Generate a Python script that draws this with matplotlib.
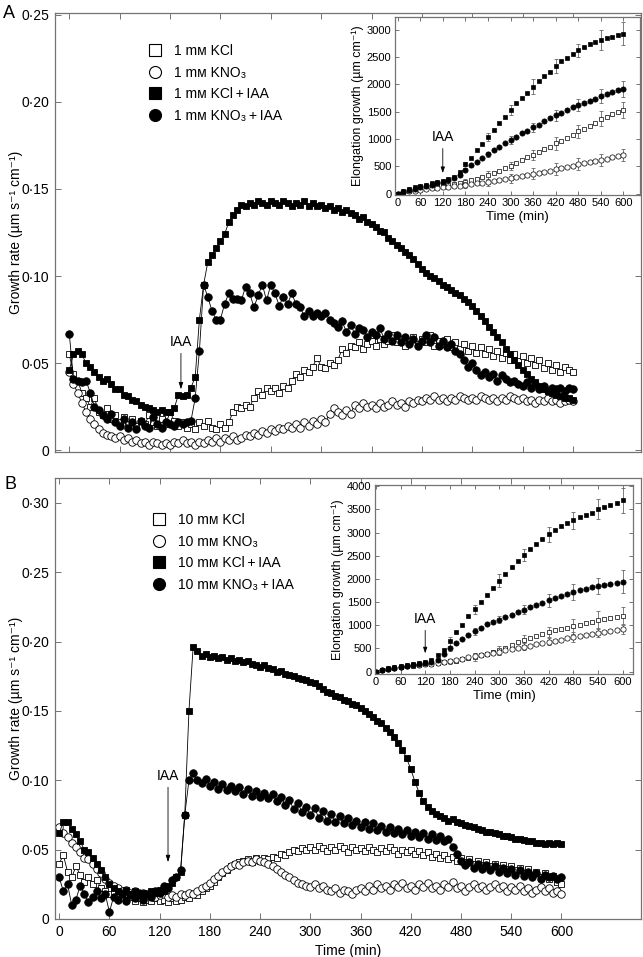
import matplotlib
matplotlib.use('Agg')
import matplotlib.pyplot as plt
import numpy as np
from matplotlib.lines import Line2D
from matplotlib.ticker import FuncFormatter, MultipleLocator

plt.rcParams['font.family'] = ['Liberation Sans', 'DejaVu Sans']

# ===========================================================
# Données : vitesse de croissance (toutes les 5 min)
# ===========================================================
t_main = np.arange(0, 601, 5)

A_kcl = [
    0.055, 0.044, 0.040, 0.033, 0.030, 0.025, 0.030, 0.022, 0.020, 0.024, 0.018, 0.020,
    0.016, 0.019, 0.015, 0.018, 0.014, 0.017, 0.015, 0.020, 0.016, 0.014, 0.018, 0.015,
    0.022, 0.017, 0.014, 0.016, 0.013, 0.015, 0.012, 0.016, 0.014, 0.017, 0.013, 0.012,
    0.015, 0.013, 0.016, 0.022, 0.025, 0.024, 0.026, 0.025, 0.030, 0.034, 0.032, 0.036,
    0.034, 0.036, 0.033, 0.037, 0.036, 0.040, 0.044, 0.042, 0.046, 0.045, 0.048, 0.053,
    0.048, 0.047, 0.050, 0.049, 0.052, 0.058, 0.056, 0.060, 0.059, 0.062, 0.058, 0.061,
    0.063, 0.060, 0.064, 0.061, 0.063, 0.066, 0.062, 0.064, 0.060, 0.063, 0.065, 0.061,
    0.064, 0.062, 0.066, 0.060, 0.063, 0.061, 0.064, 0.059, 0.062, 0.058, 0.061, 0.057,
    0.060, 0.056, 0.059, 0.055, 0.058, 0.054, 0.057, 0.053, 0.056, 0.052, 0.055, 0.051,
    0.054, 0.050, 0.053, 0.049, 0.052, 0.047, 0.050, 0.046, 0.049, 0.045, 0.048, 0.046,
    0.045]
A_kno3 = [
    0.045, 0.038, 0.033, 0.027, 0.022, 0.018, 0.015, 0.012, 0.010, 0.009, 0.008, 0.007,
    0.008, 0.006, 0.007, 0.005, 0.006, 0.004, 0.005, 0.003, 0.005, 0.004, 0.003, 0.004,
    0.003, 0.005, 0.004, 0.006, 0.004, 0.005, 0.003, 0.005, 0.004, 0.006, 0.005, 0.007,
    0.005, 0.007, 0.006, 0.008, 0.006, 0.007, 0.009, 0.008, 0.010, 0.009, 0.011, 0.010,
    0.012, 0.011, 0.013, 0.012, 0.014, 0.013, 0.015, 0.013, 0.016, 0.014, 0.017, 0.015,
    0.018, 0.016, 0.021, 0.024, 0.022, 0.020, 0.023, 0.021, 0.026, 0.024, 0.027, 0.025,
    0.026, 0.024, 0.027, 0.025, 0.026, 0.028, 0.026, 0.027, 0.025, 0.028, 0.027, 0.029,
    0.028, 0.030, 0.029, 0.031, 0.029, 0.030, 0.028, 0.030, 0.029, 0.031, 0.030, 0.029,
    0.030, 0.029, 0.031, 0.030, 0.029, 0.030, 0.028, 0.030, 0.029, 0.031, 0.030, 0.029,
    0.030, 0.028, 0.029, 0.027, 0.029, 0.028, 0.030, 0.028, 0.029, 0.027, 0.028, 0.029,
    0.028]
A_kcl_iaa = [
    0.046, 0.055, 0.057, 0.055, 0.050, 0.048, 0.045, 0.042, 0.040, 0.041, 0.038, 0.035,
    0.035, 0.032, 0.031, 0.029, 0.028, 0.026, 0.025, 0.024, 0.023, 0.022, 0.023, 0.022,
    0.022, 0.024, 0.032, 0.031, 0.032, 0.036, 0.042, 0.075, 0.095, 0.108, 0.112, 0.116,
    0.120, 0.124, 0.131, 0.135, 0.138, 0.141, 0.140, 0.142, 0.141, 0.143, 0.142, 0.141,
    0.143, 0.142, 0.141, 0.143, 0.142, 0.140, 0.142, 0.141, 0.143, 0.140, 0.142, 0.140,
    0.141, 0.139, 0.140, 0.138, 0.139, 0.137, 0.138, 0.136, 0.135, 0.133, 0.134, 0.131,
    0.130, 0.128, 0.126, 0.125, 0.122, 0.120, 0.118, 0.116, 0.114, 0.112, 0.110, 0.107,
    0.104, 0.102, 0.100, 0.099, 0.097, 0.095, 0.094, 0.092, 0.090, 0.089, 0.087, 0.085,
    0.083, 0.080, 0.077, 0.074, 0.071, 0.068, 0.065, 0.062, 0.058, 0.055, 0.052, 0.049,
    0.046, 0.044, 0.041, 0.039, 0.037, 0.035, 0.034, 0.033, 0.032, 0.031, 0.030, 0.030,
    0.029]
A_kno3_iaa = [
    0.067, 0.041, 0.040, 0.039, 0.040, 0.033, 0.025, 0.023, 0.020, 0.018, 0.021, 0.016,
    0.014, 0.018, 0.013, 0.016, 0.012, 0.017, 0.014, 0.013, 0.019, 0.015, 0.013, 0.016,
    0.015, 0.014, 0.016, 0.015, 0.016, 0.017, 0.030, 0.057, 0.095, 0.088, 0.080, 0.075,
    0.075, 0.084, 0.090, 0.087, 0.087, 0.086, 0.094, 0.090, 0.082, 0.089, 0.095, 0.086,
    0.095, 0.090, 0.083, 0.088, 0.084, 0.090, 0.084, 0.082, 0.077, 0.080, 0.077, 0.079,
    0.077, 0.079, 0.075, 0.073, 0.071, 0.074, 0.068, 0.072, 0.067, 0.070, 0.069, 0.065,
    0.068, 0.066, 0.070, 0.064, 0.067, 0.063, 0.066, 0.062, 0.065, 0.061, 0.064, 0.060,
    0.063, 0.066, 0.062, 0.065, 0.060, 0.063, 0.059, 0.061, 0.057, 0.055, 0.052, 0.048,
    0.050, 0.046, 0.043, 0.045, 0.042, 0.044, 0.040, 0.043, 0.041, 0.039, 0.040, 0.038,
    0.037, 0.039, 0.036, 0.038, 0.035, 0.037, 0.034, 0.036, 0.035, 0.036, 0.034, 0.036,
    0.035]

B_kcl = [
    0.040, 0.046, 0.034, 0.030, 0.038, 0.032, 0.027, 0.030, 0.025, 0.028, 0.022, 0.020,
    0.018, 0.020, 0.016, 0.018, 0.014, 0.016, 0.013, 0.015, 0.012, 0.014, 0.013, 0.015,
    0.013, 0.014, 0.012, 0.015, 0.013, 0.014, 0.016, 0.015, 0.018, 0.017, 0.020, 0.022,
    0.024, 0.027, 0.030, 0.033, 0.035, 0.038, 0.040, 0.041, 0.042, 0.043, 0.041, 0.044,
    0.042, 0.044, 0.043, 0.045, 0.044, 0.047, 0.046, 0.048, 0.050, 0.049, 0.051, 0.050,
    0.052, 0.050, 0.053, 0.051, 0.049, 0.052, 0.050, 0.053, 0.051, 0.048, 0.052, 0.050,
    0.051, 0.049, 0.052, 0.050, 0.048, 0.051, 0.049, 0.052, 0.050, 0.047, 0.050, 0.048,
    0.050, 0.047, 0.049, 0.046, 0.048, 0.045, 0.047, 0.044, 0.046, 0.043, 0.045, 0.042,
    0.044, 0.041, 0.043, 0.040, 0.042, 0.039, 0.041, 0.038, 0.040, 0.037, 0.039, 0.036,
    0.038, 0.035, 0.037, 0.033, 0.036, 0.032, 0.034, 0.030, 0.033, 0.029, 0.031, 0.027,
    0.025]
B_kno3 = [
    0.066, 0.062, 0.059, 0.055, 0.052, 0.048, 0.044, 0.043, 0.040, 0.036, 0.033, 0.029,
    0.026, 0.024, 0.022, 0.020, 0.021, 0.019, 0.020, 0.018, 0.019, 0.017, 0.018, 0.016,
    0.017, 0.018, 0.016, 0.017, 0.016, 0.018, 0.017, 0.019, 0.018, 0.020, 0.022, 0.024,
    0.026, 0.029, 0.031, 0.034, 0.036, 0.038, 0.040, 0.039, 0.041, 0.042, 0.041, 0.043,
    0.042, 0.041, 0.040, 0.038, 0.036, 0.034, 0.032, 0.030, 0.028, 0.026, 0.025, 0.024,
    0.023, 0.025, 0.022, 0.024, 0.021, 0.020, 0.022, 0.019, 0.021, 0.020, 0.018, 0.021,
    0.022, 0.020, 0.024, 0.021, 0.025, 0.022, 0.024, 0.021, 0.025, 0.023, 0.026, 0.022,
    0.024, 0.021, 0.025, 0.023, 0.026, 0.022, 0.024, 0.021, 0.025, 0.023, 0.027, 0.022,
    0.024, 0.020, 0.023, 0.025, 0.022, 0.024, 0.021, 0.023, 0.025, 0.022, 0.024, 0.020,
    0.023, 0.021, 0.024, 0.020, 0.022, 0.019, 0.021, 0.023, 0.020, 0.022, 0.019, 0.020,
    0.018]
B_kcl_iaa = [
    0.062, 0.070, 0.070, 0.065, 0.061, 0.056, 0.050, 0.048, 0.044, 0.040, 0.035, 0.030,
    0.025, 0.022, 0.020, 0.019, 0.021, 0.018, 0.020, 0.017, 0.019, 0.018, 0.020, 0.019,
    0.021, 0.020, 0.024, 0.026, 0.030, 0.034, 0.075, 0.150, 0.196, 0.193, 0.190, 0.191,
    0.189, 0.190, 0.188, 0.189, 0.187, 0.188, 0.186, 0.187, 0.185, 0.186, 0.184, 0.183,
    0.182, 0.183, 0.181, 0.180, 0.178, 0.179, 0.177, 0.176, 0.175, 0.174, 0.173, 0.172,
    0.171, 0.170, 0.168, 0.166, 0.164, 0.163, 0.161, 0.160, 0.158, 0.157, 0.155, 0.154,
    0.152, 0.150, 0.148, 0.146, 0.143, 0.141, 0.138, 0.135, 0.131, 0.127, 0.122, 0.116,
    0.108, 0.099, 0.091, 0.085, 0.081, 0.078, 0.076, 0.074, 0.073, 0.071, 0.072, 0.070,
    0.069, 0.068, 0.067, 0.066, 0.065, 0.064, 0.063, 0.063, 0.062, 0.061, 0.060, 0.060,
    0.059, 0.058, 0.058, 0.057, 0.056, 0.056, 0.055, 0.055, 0.054, 0.055, 0.054, 0.055,
    0.054]
B_kno3_iaa = [
    0.030, 0.020, 0.025, 0.010, 0.014, 0.024, 0.018, 0.012, 0.016, 0.020, 0.015, 0.018,
    0.005, 0.016, 0.014, 0.018, 0.013, 0.017, 0.015, 0.019, 0.014, 0.018, 0.016, 0.020,
    0.019, 0.024, 0.022, 0.028, 0.030, 0.035, 0.075, 0.100, 0.105, 0.100, 0.098, 0.101,
    0.096, 0.099, 0.094, 0.097, 0.093, 0.096, 0.092, 0.095, 0.090, 0.094, 0.089, 0.092,
    0.088, 0.091, 0.087, 0.090, 0.085, 0.088, 0.082, 0.086, 0.079, 0.084, 0.077, 0.081,
    0.075, 0.080, 0.073, 0.078, 0.071, 0.076, 0.070, 0.074, 0.069, 0.073, 0.068, 0.071,
    0.066, 0.070, 0.065, 0.069, 0.064, 0.067, 0.063, 0.066, 0.062, 0.065, 0.061, 0.064,
    0.060, 0.063, 0.059, 0.062, 0.058, 0.061, 0.057, 0.060, 0.056, 0.058, 0.052, 0.047,
    0.042, 0.039, 0.041, 0.037, 0.040, 0.036, 0.039, 0.035, 0.038, 0.034, 0.037, 0.033,
    0.036, 0.032, 0.035, 0.031, 0.034, 0.030, 0.033, 0.029, 0.032, 0.030, 0.031, 0.029,
    0.030]

# ===========================================================
# Données : croissance cumulée (encarts, toutes les 15 min)
# ===========================================================
t_ins = np.arange(0, 601, 15)
t_err = t_ins[4::4]   # barres d'erreur toutes les 60 min

insA_kcl = [0, 25, 50, 70, 90, 105, 120, 135, 150, 165, 180, 195, 215, 240, 270, 300,
            340, 380, 420, 460, 510, 560, 610, 660, 710, 760, 810, 860, 920, 970, 1020,
            1080, 1140, 1190, 1240, 1300, 1370, 1410, 1450, 1490, 1530]
insA_kno3 = [0, 20, 40, 55, 70, 85, 95, 105, 115, 125, 135, 145, 155, 170, 185, 200,
             215, 230, 245, 260, 280, 295, 315, 340, 365, 385, 400, 420, 445, 465, 485,
             510, 540, 560, 575, 595, 620, 640, 660, 680, 700]
insA_kcl_iaa = [0, 46, 85, 115, 140, 165, 190, 210, 230, 260, 300, 390, 540, 650, 790,
                910, 1040, 1160, 1290, 1410, 1530, 1650, 1750, 1850, 1960, 2060, 2150,
                2230, 2340, 2420, 2490, 2550, 2620, 2680, 2730, 2770, 2810, 2840, 2870,
                2900, 2930]
insA_kno3_iaa = [0, 30, 60, 90, 120, 140, 165, 190, 215, 240, 280, 340, 430, 520, 580,
                 650, 720, 790, 860, 920, 980, 1040, 1100, 1150, 1210, 1260, 1320, 1380,
                 1430, 1480, 1530, 1580, 1620, 1660, 1700, 1740, 1780, 1820, 1860, 1890,
                 1920]
errA_kcl = [10, 20, 51, 67, 76, 92, 116, 122, 137, 150]
errA_kno3 = [10, 20, 61, 85, 85, 100, 107, 107, 113, 113]
errA_kcl_iaa = [15, 25, 45, 75, 90, 137, 128, 120, 190, 213]
errA_kno3_iaa = [10, 20, 30, 46, 67, 76, 104, 116, 128, 150]

insB_kcl = [0, 30, 60, 80, 100, 115, 130, 145, 160, 175, 190, 205, 220, 240, 265, 290,
            320, 350, 380, 420, 460, 510, 570, 630, 680, 720, 760, 810, 860, 890, 920,
            950, 980, 1010, 1040, 1070, 1110, 1140, 1160, 1180, 1210]
insB_kno3 = [0, 30, 60, 80, 100, 120, 135, 150, 165, 175, 190, 205, 220, 250, 280, 310,
             340, 360, 380, 410, 430, 460, 490, 510, 540, 560, 590, 620, 650, 670, 690,
             720, 750, 770, 790, 810, 840, 860, 880, 900, 920]
insB_kcl_iaa = [0, 40, 70, 100, 120, 140, 160, 180, 200, 260, 350, 470, 660, 850, 1010,
                1190, 1350, 1500, 1650, 1800, 1960, 2100, 2250, 2390, 2510, 2640, 2750,
                2860, 2960, 3050, 3130, 3200, 3260, 3330, 3380, 3430, 3500, 3540, 3590,
                3640, 3690]
insB_kno3_iaa = [0, 35, 65, 90, 110, 130, 145, 160, 180, 210, 260, 380, 500, 610, 700,
                 800, 870, 950, 1020, 1070, 1120, 1170, 1220, 1280, 1340, 1390, 1440,
                 1490, 1540, 1590, 1630, 1680, 1720, 1760, 1790, 1820, 1850, 1870, 1900,
                 1920, 1940]
errB_kcl = [10, 20, 50, 79, 90, 108, 108, 158, 198, 176]
errB_kno3 = [10, 20, 40, 72, 72, 72, 79, 108, 97, 97]
errB_kcl_iaa = [15, 30, 97, 97, 140, 133, 162, 183, 215, 270]
errB_kno3_iaa = [10, 20, 54, 72, 72, 90, 136, 172, 180, 244]

labels_A = ['1 mᴍ KCl', '1 mᴍ KNO₃', '1 mᴍ KCl\u2009+\u2009IAA', '1 mᴍ KNO₃\u2009+\u2009IAA']
labels_B = ['10 mᴍ KCl', '10 mᴍ KNO₃', '10 mᴍ KCl\u2009+\u2009IAA', '10 mᴍ KNO₃\u2009+\u2009IAA']

# (marqueur, couleur de remplissage, taille)
styles = [('s', 'white', 5.0), ('o', 'white', 5.4), ('s', 'black', 5.0), ('o', 'black', 5.4)]

GREY = '0.45'
W, H = 643, 957


def rect(left, top, right, bottom):
    # pixels -> fraction de figure
    return [left / W, 1 - bottom / H, (right - left) / W, (bottom - top) / H]


def style_axes(ax, length, size, pad):
    for s in ax.spines.values():
        s.set_color(GREY)
        s.set_linewidth(0.9)
    ax.tick_params(direction='in', top=True, right=True, length=length, width=0.7,
                   color=GREY, labelsize=size, pad=pad)


dot_fmt = FuncFormatter(lambda v, p: '0' if abs(v) < 1e-9 else f'{v:.2f}'.replace('.', '·'))


def main_panel(ax, series, labels, ylim, ystep, legend_xy):
    for y, (m, fc, ms), lab in zip(series, styles, labels):
        ax.plot(t_main, y, color='black', lw=0.6, marker=m, ms=ms, mfc=fc,
                mec='black', mew=0.6, label=lab)
    ax.yaxis.set_major_locator(MultipleLocator(ystep))
    ax.yaxis.set_major_formatter(dot_fmt)
    ax.set_xticks(np.arange(0, 601, 60))
    ax.set_ylim(*ylim)
    ax.set_ylabel('Growth rate (µm s⁻¹ cm⁻¹)', fontsize=10, labelpad=-1)
    style_axes(ax, 4, 10, 4)
    handles = [Line2D([], [], ls='none', marker=m, ms=ms * 1.6, mfc=fc, mec='black', mew=0.8)
               for m, fc, ms in styles]
    ax.legend(handles, labels, loc='upper left', frameon=False, fontsize=10,
              bbox_to_anchor=(legend_xy[0] / W, 1 - legend_xy[1] / H),
              bbox_transform=ax.figure.transFigure, handlelength=1.0,
              handletextpad=0.9, labelspacing=0.55, borderpad=0, borderaxespad=0)


def inset_panel(ax, series, errs, xlim, ylim, ystep, iaa):
    for y, e, (m, fc, ms) in zip(series, errs, styles):
        y = np.asarray(y)
        ax.errorbar(t_err, y[4::4], yerr=e, fmt='none', ecolor='0.4', elinewidth=0.6,
                    capsize=1.6, capthick=0.6)
        ax.plot(t_ins, y, ls='none', marker=m, ms=ms * 0.7, mfc=fc, mec='black', mew=0.5)
    ax.set_xlim(*xlim)
    ax.set_ylim(*ylim)
    ax.set_xticks(np.arange(0, 601, 60))
    ax.yaxis.set_major_locator(MultipleLocator(ystep))
    ax.set_xlabel('Time (min)', fontsize=9.5, labelpad=2)
    ax.set_ylabel('Elongation growth (µm cm⁻¹)', fontsize=9, labelpad=2)
    style_axes(ax, 3, 8, 2.5)
    ax.annotate('IAA', xy=(iaa[0], iaa[1]), xytext=(iaa[0], iaa[2]), ha='center',
                va='bottom', fontsize=10,
                arrowprops=dict(arrowstyle='-|>,head_length=0.35,head_width=0.12',
                                color='black', lw=0.6, shrinkA=1, shrinkB=0))


fig = plt.figure(figsize=(W / 100, H / 100), dpi=100)

# ---------------- Panneau A ----------------
axA = fig.add_axes(rect(55, 13, 641, 452))
main_panel(axA, [A_kcl, A_kno3, A_kcl_iaa, A_kno3_iaa], labels_A, (-0.001, 0.251), 0.05,
           (148, 44))
axA.set_xlim(-17, 681)
axA.set_xticklabels([])
axA.annotate('IAA', xy=(133, 0.035), xytext=(133, 0.058), ha='center', va='bottom',
             fontsize=10,
             arrowprops=dict(arrowstyle='-|>,head_length=0.4,head_width=0.13',
                             color='black', lw=0.6, shrinkA=1, shrinkB=0))
fig.text(9 / W, 1 - 14 / H, 'A', fontsize=13, ha='center', va='center')

insA = fig.add_axes(rect(395, 17, 640, 195))
inset_panel(insA, [insA_kcl, insA_kno3, insA_kcl_iaa, insA_kno3_iaa],
            [errA_kcl, errA_kno3, errA_kcl_iaa, errA_kno3_iaa],
            (-7, 644), (-27, 3233), 500, (120, 375, 900))

# ---------------- Panneau B ----------------
axB = fig.add_axes(rect(55, 478, 641, 919))
main_panel(axB, [B_kcl, B_kno3, B_kcl_iaa, B_kno3_iaa], labels_B, (0, 0.318), 0.05,
           (152, 513))
axB.set_xlim(-5, 695)
axB.set_xlabel('Time (min)', fontsize=10, labelpad=4)
axB.annotate('IAA', xy=(130, 0.041), xytext=(130, 0.098), ha='center', va='bottom',
             fontsize=10,
             arrowprops=dict(arrowstyle='-|>,head_length=0.4,head_width=0.13',
                             color='black', lw=0.6, shrinkA=1, shrinkB=0))
fig.text(11 / W, 1 - 484 / H, 'B', fontsize=13, ha='center', va='center')

insB = fig.add_axes(rect(375, 485, 633, 674))
inset_panel(insB, [insB_kcl, insB_kno3, insB_kcl_iaa, insB_kno3_iaa],
            [errB_kcl, errB_kno3, errB_kcl_iaa, errB_kno3_iaa],
            (-2, 625), (-50, 4024), 500, (120, 396, 980))

fig.savefig('out.png', dpi=100)
